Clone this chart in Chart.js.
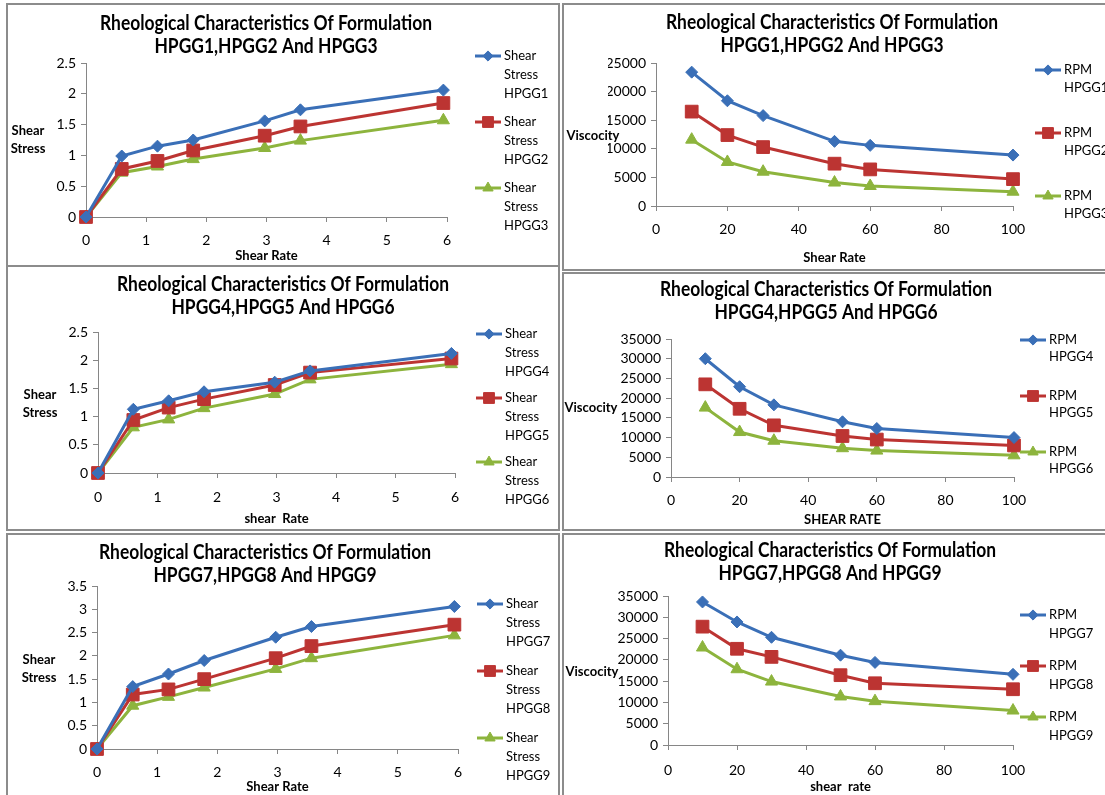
<!DOCTYPE html>
<html>
<head>
<meta charset="utf-8">
<title>Rheological Characteristics</title>
<script src="https://cdn.jsdelivr.net/npm/chart.js@4.4.1/dist/chart.umd.min.js"></script>
<style>
    html, body { margin:0; padding:0; background:#fff; }
    #page   { position:relative; width:1105px; height:795px; overflow:hidden; }
    .panel  { position:absolute; box-sizing:border-box; border:2px solid #8c8c8c; }
    canvas  { position:absolute; }
</style>
</head>
<body>
<div id="page"></div>
<script>
// ── Data ──────────────────────────────────────────────────────────────
const shearRate = [0, 0.594, 1.188, 1.782, 2.97, 3.564, 5.94];
const rpm       = [10, 20, 30, 50, 60, 100];

const stressHPGG1 = [0, 0.99, 1.15, 1.25, 1.56, 1.74, 2.06];
const stressHPGG2 = [0, 0.78, 0.91, 1.08, 1.32, 1.47, 1.85];
const stressHPGG3 = [0, 0.72, 0.82, 0.94, 1.12, 1.24, 1.57];
const stressHPGG4 = [0, 1.13, 1.28, 1.44, 1.61, 1.81, 2.12];
const stressHPGG5 = [0, 0.94, 1.16, 1.31, 1.56, 1.78, 2.03];
const stressHPGG6 = [0, 0.81, 0.95, 1.15, 1.40, 1.66, 1.93];
const stressHPGG7 = [0, 1.34, 1.61, 1.90, 2.40, 2.63, 3.06];
const stressHPGG8 = [0, 1.17, 1.28, 1.50, 1.95, 2.21, 2.67];
const stressHPGG9 = [0, 0.93, 1.12, 1.32, 1.72, 1.95, 2.44];

const viscHPGG1 = [23400, 18400, 15800, 11300, 10600, 8900];
const viscHPGG2 = [16500, 12400, 10300, 7400, 6400, 4700];
const viscHPGG3 = [11600, 7700, 6000, 4100, 3500, 2500];
const viscHPGG4 = [30000, 22900, 18300, 14000, 12300, 10000];
const viscHPGG5 = [23500, 17300, 13100, 10400, 9500, 8000];
const viscHPGG6 = [17600, 11400, 9200, 7300, 6700, 5500];
const viscHPGG7 = [33600, 28900, 25300, 21100, 19400, 16600];
const viscHPGG8 = [27800, 22600, 20700, 16400, 14500, 13100];
const viscHPGG9 = [22900, 17800, 14900, 11400, 10300, 8100];

const TITLE = 'Rheological Characteristics Of Formulation';

// ── Styles ────────────────────────────────────────────────────────────
const FONT   = 'Lato';
const AXIS   = '#868686';
const SERIES = [
    { color:'#3a6fb7', pointStyle:'rectRot',  radius:6 },
    { color:'#bc3432', pointStyle:'rect',     radius:9 },
    { color:'#8db43d', pointStyle:'triangle', radius:7 },
];

// ── Panels (box = left, top, width, height on the page) ───────────────
const panels = [
    { box:[6,3,554,264],   xs:shearRate, ys:[stressHPGG1,stressHPGG2,stressHPGG3], names:['Shear Stress HPGG1','Shear Stress HPGG2','Shear Stress HPGG3'],
      sub:'HPGG1,HPGG2 And HPGG3', xTitle:'Shear Rate', yTitle:['Shear','Stress'], xMax:6, xStep:1, yMax:2.5, yStep:0.5,
      pad:{left:40,right:113,top:60,bottom:3}, wy:40, hx:47, xTickPad:11,
      titleX:260, titleY:21, yTitleX:22, yTitleY:128, legX:469, legY:53, legLine:19, legGap:66 },
    { box:[562,3,545,268], xs:rpm, ys:[viscHPGG1,viscHPGG2,viscHPGG3], names:['RPM HPGG1','RPM HPGG2','RPM HPGG3'],
      sub:'HPGG1,HPGG2 And HPGG3', xTitle:'Shear Rate', yTitle:['Viscocity'], xMax:100, xStep:20, yMax:25000, yStep:5000,
      pad:{left:46,right:94,top:60,bottom:5}, wy:48, hx:60, xTickPad:11,
      titleX:270, titleY:20, yTitleX:31, yTitleY:133, legX:473, legY:67, legLine:18, legGap:63 },
    { box:[6,265,554,266], xs:shearRate, ys:[stressHPGG4,stressHPGG5,stressHPGG6], names:['Shear Stress HPGG4','Shear Stress HPGG5','Shear Stress HPGG6'],
      sub:'HPGG4,HPGG5 And HPGG6', xTitle:'shear  Rate', yTitle:['Shear','Stress'], xMax:6, xStep:1, yMax:2.5, yStep:0.5,
      pad:{left:52,right:105,top:67,bottom:4}, wy:40, hx:54, xTickPad:12,
      titleX:277, titleY:20, yTitleX:34, yTitleY:130, legX:470, legY:69, legLine:19, legGap:64 },
    { box:[562,272,545,259], xs:rpm, ys:[viscHPGG4,viscHPGG5,viscHPGG6], names:['RPM HPGG4','RPM HPGG5','RPM HPGG6'],
      sub:'HPGG4,HPGG5 And HPGG6', xTitle:'SHEAR RATE', yTitle:['Viscocity'], xMax:100, xStep:20, yMax:35000, yStep:5000,
      pad:{left:53,right:93,top:67,bottom:3}, wy:56, hx:51, xTickPad:11,
      titleX:264, titleY:18, yTitleX:29, yTitleY:136, legX:458, legY:68, legLine:17, legGap:56 },
    { box:[6,533,554,264], xs:shearRate, ys:[stressHPGG7,stressHPGG8,stressHPGG9], names:['Shear Stress HPGG7','Shear Stress HPGG8','Shear Stress HPGG9'],
      sub:'HPGG7,HPGG8 And HPGG9', xTitle:'Shear Rate', yTitle:['Shear','Stress'], xMax:6, xStep:1, yMax:3.5, yStep:0.5,
      pad:{left:51,right:102,top:53,bottom:2}, wy:40, hx:46, xTickPad:11,
      titleX:259, titleY:20, yTitleX:33, yTitleY:127, legX:471, legY:71, legLine:19, legGap:67 },
    { box:[562,533,545,264], xs:rpm, ys:[viscHPGG7,viscHPGG8,viscHPGG9], names:['RPM HPGG7','RPM HPGG8','RPM HPGG9'],
      sub:'HPGG7,HPGG8 And HPGG9', xTitle:'shear  rate', yTitle:['Viscocity'], xMax:100, xStep:20, yMax:35000, yStep:5000,
      pad:{left:50,right:94,top:63,bottom:2}, wy:56, hx:50, xTickPad:13,
      titleX:268, titleY:18, yTitleX:30, yTitleY:139, legX:458, legY:82, legLine:19, legGap:51 },
];

// ── Plugin: title, horizontal y title and wrapped legend ─────────────
const panelText = {
    id: 'panelText',
    afterDraw(chart, args, o) {
        const ctx = chart.ctx;
        ctx.save();
        ctx.fillStyle    = '#000';
        ctx.textAlign    = 'center';
        ctx.textBaseline = 'middle';

        // narrow the title the same way on both lines (Calibri-like width)
        ctx.font = `bold 20px ${FONT}`;
        const squeeze = Math.min(1, 332 / ctx.measureText(o.title[0]).width);
        o.title.forEach((t, i) => {
            ctx.save();
            ctx.translate(o.titleX, o.titleY + i * 23);
            ctx.scale(squeeze, 1);
            ctx.fillText(t, 0, 0);
            ctx.restore();
        });

        ctx.font = `bold 13px ${FONT}`;
        o.yTitle.forEach((t, i) => ctx.fillText(t, o.yTitleX, o.yTitleY + i * 18));

        ctx.textAlign = 'left';
        ctx.font = `13px ${FONT}`;
        chart.data.datasets.forEach((ds, i) => {
            const y = o.legY + i * o.legGap;
            ctx.strokeStyle = ds.borderColor;
            ctx.lineWidth   = 3;
            ctx.beginPath(); ctx.moveTo(o.legX, y); ctx.lineTo(o.legX + 26, y); ctx.stroke();
            ctx.fillStyle = ds.borderColor;
            ctx.lineWidth = 1;
            Chart.helpers.drawPoint(ctx, { pointStyle: ds.pointStyle, radius: ds.pointRadius * 0.85, borderWidth: 1 }, o.legX + 13, y);
            ctx.fillStyle = '#000';
            ds.label.split(' ').forEach((w, j) => ctx.fillText(w, o.legX + 29, y + j * o.legLine));
        });
        ctx.restore();
    }
};

// ── Build ─────────────────────────────────────────────────────────────
const page = document.getElementById('page');

panels.forEach(p => {
    const [left, top, w, h] = p.box;

    const frame = document.createElement('div');
    frame.className = 'panel';
    Object.assign(frame.style, { left: left + 'px', top: top + 'px', width: w + 'px', height: h + 'px' });
    page.appendChild(frame);

    const cv = document.createElement('canvas');
    cv.width = w; cv.height = h;
    Object.assign(cv.style, { left: left + 'px', top: top + 'px' });
    page.appendChild(cv);

    const datasets = p.ys.map((vals, i) => ({
        label: p.names[i],
        data: vals.map((v, k) => ({ x: p.xs[k], y: v })),
        borderColor: SERIES[i].color,
        backgroundColor: SERIES[i].color,
        pointBackgroundColor: SERIES[i].color,
        pointBorderColor: SERIES[i].color,
        pointStyle: SERIES[i].pointStyle,
        pointRadius: SERIES[i].radius,
        pointBorderWidth: 1,
        borderWidth: 3,
        tension: 0,
        clip: false,
    }));

    const axisGrid = { drawOnChartArea:false, drawTicks:true, tickLength:5, color:AXIS };

    new Chart(cv, {
        type: 'line',
        data: { datasets },
        options: {
            responsive: false,
            animation: false,
            layout: { padding: p.pad },
            plugins: {
                legend: { display:false },
                title:  { display:false },
                tooltip:{ enabled:false },
                panelText: { title:[TITLE, p.sub], titleX:p.titleX, titleY:p.titleY, yTitle:p.yTitle,
                             yTitleX:p.yTitleX, yTitleY:p.yTitleY, legX:p.legX, legY:p.legY, legLine:p.legLine, legGap:p.legGap },
            },
            scales: {
                x: {
                    type:'linear', min:0, max:p.xMax,
                    grid: axisGrid, border:{ color:AXIS, width:1 },
                    ticks:{ stepSize:p.xStep, padding:p.xTickPad - 1, maxRotation:0, autoSkip:false, color:'#000', font:{ family:FONT, size:14 } },
                    title:{ display:true, text:p.xTitle, color:'#000', padding:0, font:{ family:FONT, size:13, weight:'bold' } },
                    afterFit: s => { s.height = p.hx; },
                },
                y: {
                    min:0, max:p.yMax,
                    grid: axisGrid, border:{ color:AXIS, width:1 },
                    ticks:{ stepSize:p.yStep, padding:5, autoSkip:false, color:'#000', font:{ family:FONT, size:14 }, callback: v => String(v) },
                    afterFit: s => { s.width = p.wy; },
                },
            },
        },
        plugins: [panelText],
    });
});
</script>
</body>
</html>
